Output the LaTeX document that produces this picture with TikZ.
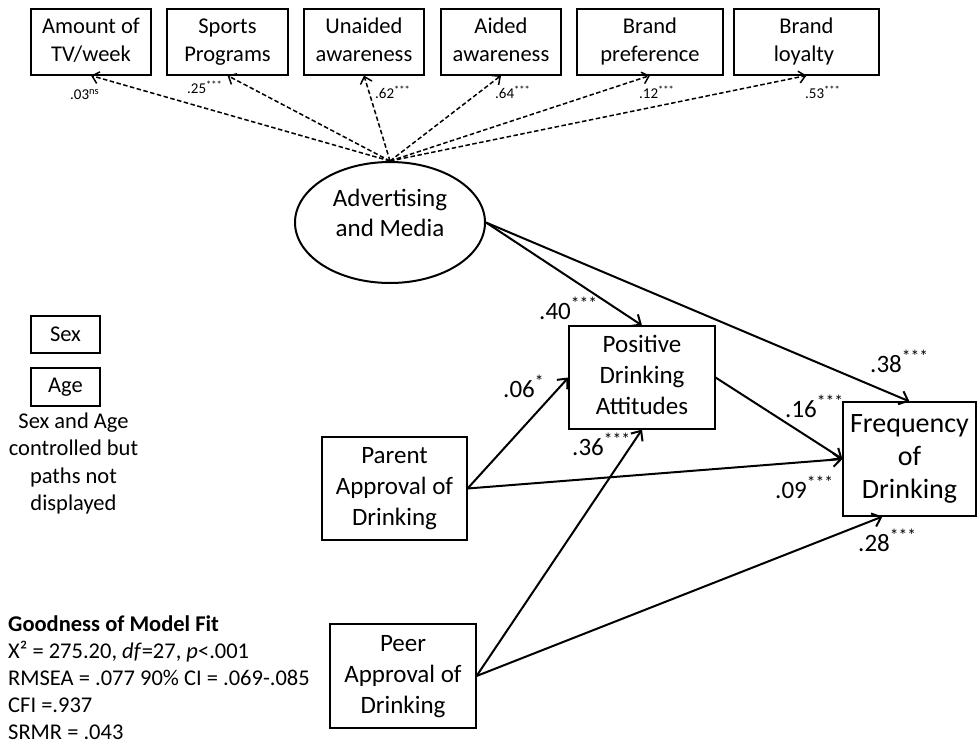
\documentclass[tikz,border=0pt]{standalone}
\usepackage{fontspec}
\setmainfont{Carlito}
\usetikzlibrary{arrows.meta,shapes.geometric}
\tikzset{
	obs/.style={draw, line width=1.1pt, inner sep=0pt, align=center},
	effect/.style={line width=2pt, -{Straight Barb[length=8pt,width=14pt,line width=2pt]}},
	loading/.style={line width=1.5pt, dash pattern=on 4.5pt off 2.5pt, -{Straight Barb[length=6.5pt,width=12pt,line width=1.5pt]}},
	coef/.style={anchor=base west, inner sep=0pt, font=\fontsize{25}{30}\selectfont},
	small coef/.style={anchor=base west, inner sep=0pt, font=\fontsize{15}{18}\selectfont}
}
\begin{document}
\begin{tikzpicture}[x=1pt, y=-1pt]
	\useasboundingbox (0,0) rectangle (977,746);
	\foreach \name/\cx/\w/\la/\lb in {
		tv/91/120/Amount of/TV\slash week,
		sport/227.5/121/Sports/Programs,
		unaid/364/120/Unaided/awareness,
		aid/501/120/Aided/awareness,
		pref/650/146/Brand/preference,
		loyal/806.5/145/Brand/loyalty
	}{
	\node[obs, minimum width=\w pt, minimum height=66pt, font=\fontsize{22.5}{28}\selectfont] (\name) at (\cx,42) {\strut\la\\\lb\strut};
	}
	\node[draw, ellipse, line width=2pt, minimum width=190pt, minimum height=121pt, inner sep=0pt, align=center, font=\fontsize{25}{30}\selectfont] (adv) at (390,222.5) {\strut Advertising\\and Media\strut\\[-6pt]};
	\node[obs, minimum width=146pt, minimum height=103pt, font=\fontsize{25}{31}\selectfont] (pos) at (642,377.5) {\strut Positive\\Drinking\\Attitudes\strut};
	\node[obs, minimum width=133pt, minimum height=114pt, font=\fontsize{28}{33}\selectfont] (freq) at (909.5,459) {\strut Frequency\\of\\Drinking\strut};
	\node[obs, minimum width=145pt, minimum height=103pt, font=\fontsize{25}{31}\selectfont] (parent) at (394.5,488.5) {\strut Parent\\Approval of\\Drinking\strut};
	\node[obs, minimum width=146pt, minimum height=104pt, font=\fontsize{25}{31}\selectfont] (peer) at (403,676) {\strut Peer\\Approval of\\Drinking\strut};
	\node[obs, minimum width=69pt, minimum height=37pt, font=\fontsize{22.5}{28}\selectfont] (sex) at (65.5,334.5) {Sex};
	\node[obs, minimum width=69pt, minimum height=38pt, font=\fontsize{22.5}{28}\selectfont] (age) at (65.5,387) {Age};
	\node[anchor=north, inner sep=0pt, align=center, font=\fontsize{22.5}{27.5}\selectfont] (note) at (73.5,412.5) {Sex and Age\\controlled but\\paths not\\displayed};
	\node[anchor=north west, inner sep=0pt, align=left, font=\fontsize{22.5}{27}\selectfont] (fit) at (8,616) {\textbf{Goodness of Model Fit}\\X² = 275.20, \textit{df}=27, \textit{p}<.001\\RMSEA = .077 90\% CI = .069-.085\\CFI =.937\\SRMR = .043};
	\foreach \name in {tv,sport,unaid,aid,pref,loyal}
		\draw[loading] (adv.north) -- (\name.south);
	\draw[effect] (adv.east) -- (pos.north);
	\draw[effect] (adv.east) -- (freq.north);
	\draw[effect] (parent.east) -- (pos.west);
	\draw[effect] (parent.east) -- (freq.west);
	\draw[effect] (pos.east) -- (freq.west);
	\draw[effect] (peer.east) -- (pos.south);
	\draw[effect] (peer.east) -- ([xshift=40pt]freq.south west);
	\foreach \coord/\val/\st [count=\i] in {
		{70,100}/.03/ns,
		{187,94}/.25/***,
		{375,99}/.62/***,
		{495,99}/.64/***,
		{639,99}/.12/***,
		{805,99}/.53/***
	}{
	\node[small coef] (load\i) at (\coord) {\val\textsuperscript{\st}};
	}
	\foreach \coord/\val/\st [count=\i] in {
		{539,319}/.40/***,
		{870,372}/.38/***,
		{503,397}/.06/*,
		{785,417}/.16/***,
		{572,455}/.36/***,
		{775,498}/.09/***,
		{858,551}/.28/***
	}{
	\node[coef] (path\i) at (\coord) {\val\textsuperscript{\st}};
	}
\end{tikzpicture}
\end{document}
